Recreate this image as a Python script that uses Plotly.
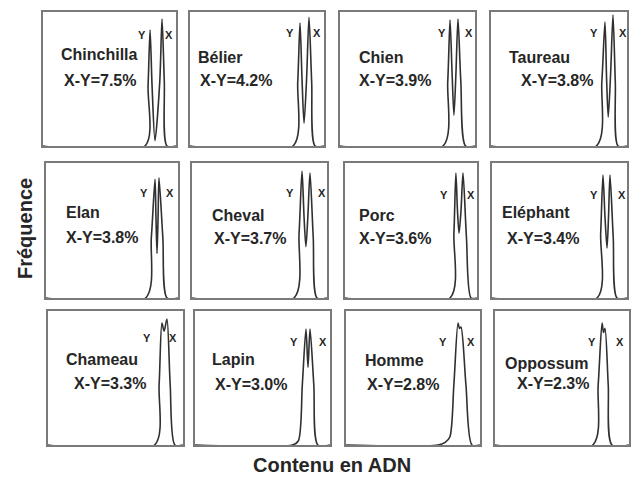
import plotly.graph_objects as go

W, H = 634, 477

species = ["Chinchilla", "Bélier", "Chien", "Taureau",
           "Elan", "Cheval", "Porc", "Eléphant",
           "Chameau", "Lapin", "Homme", "Oppossum"]
ratio_labels = ["X-Y=7.5%", "X-Y=4.2%", "X-Y=3.9%", "X-Y=3.8%",
                "X-Y=3.8%", "X-Y=3.7%", "X-Y=3.6%", "X-Y=3.4%",
                "X-Y=3.3%", "X-Y=3.0%", "X-Y=2.8%", "X-Y=2.3%"]

# DNA-content histogram outlines (relative DNA content 0-100, frequency 0-100)
curve_x = [
    [0, 76.7, 79.0, 80.5, 82.0, 84.2, 87.8, 89.5, 91.2, 93.2, 100],
    [0, 76.9, 80.4, 82.1, 83.6, 85.1, 87.0, 88.8, 90.8, 93.3, 100],
    [0, 76.3, 79.8, 81.5, 83.0, 84.4, 85.9, 87.4, 89.5, 93.0, 100],
    [0, 77.5, 81.5, 83.8, 85.0, 86.2, 88.0, 89.7, 91.4, 93.4, 100],
    [0, 75.5, 79.8, 82.6, 83.3, 84.1, 84.9, 85.6, 88.5, 91.7, 100],
    [0, 75.5, 79.3, 81.5, 83.0, 84.4, 85.9, 87.4, 89.8, 92.6, 100],
    [0, 79.5, 82.5, 84.0, 85.2, 86.4, 87.9, 89.4, 92.0, 95.5, 100],
    [0, 77.8, 80.5, 82.2, 83.7, 85.2, 86.3, 87.4, 89.8, 92.6, 100],
    [0, 79.0, 82.3, 84.4, 86.0, 88.1, 90.5, 94.0, 100],
    [0, 72.0, 76.5, 79.5, 82.2, 83.7, 85.2, 88.0, 91.0, 100],
    [0, 68.7, 74.0, 77.5, 80.5, 83.6, 84.7, 85.8, 89.5, 94.0, 100],
    [0, 73.0, 77.0, 79.9, 81.0, 82.1, 84.5, 87.3, 100],
]
curve_y = [
    [0, 0, 45, 86.6, 45, 4, 48, 94.8, 48, 0, 0],
    [0, 0, 48, 91.8, 50, 17, 50, 96, 48, 0, 0],
    [0, 0, 48, 94, 55, 23, 55, 94.8, 48, 0, 0],
    [0, 0, 48, 92.5, 50, 21.6, 55, 97.8, 48, 0, 0],
    [0, 0, 45, 88, 60, 33, 60, 89, 45, 0, 0],
    [0, 0, 48, 94, 60, 38, 62, 92.6, 45, 0, 0],
    [0, 0, 48, 92.6, 65, 48, 65, 92.6, 45, 0, 0],
    [0, 0, 48, 91, 60, 37, 60, 91, 45, 0, 0],
    [0, 0, 45, 91, 85, 94, 45, 0, 0],
    [0, 0, 3, 45, 86.6, 58, 86.6, 45, 0, 0],
    [0, 0, 2, 6, 45, 91, 87, 88, 45, 0, 0],
    [0, 0, 45, 91, 84, 87, 45, 0, 0],
]

# panel boxes in pixels (left, right, top, bottom)
boxes = [
    (43, 176, 12, 146), (190, 324, 12, 146), (340, 475, 12, 146), (491, 627, 12, 146),
    (46, 178, 163, 298), (192, 327, 163, 298), (345, 477, 163, 298), (492, 627, 163, 298),
    (48, 183, 311, 445), (195, 330, 311, 445), (346, 480, 311, 445), (495, 629, 311, 445),
]
# text positions inside panels (relative coords)
name_pos = [(12, 68), (4.5, 66), (12.6, 66), (11.8, 66),
            (13.6, 63), (13.3, 61), (9, 61), (6, 63),
            (11.9, 64), (11.1, 64), (12.7, 63), (6, 61)]
ratio_pos = [(14.3, 49), (6, 49), (12.6, 49), (20.6, 49),
             (13.6, 45), (14.8, 44), (9, 44), (9.6, 44),
             (17.8, 46), (13.3, 45), (14.2, 45), (15, 46)]
ylab_pos = [(74.4, 83), (74.6, 84), (75.5, 84), (75.7, 84),
            (74, 78), (72.6, 78), (75, 76), (75.5, 76),
            (73, 80), (73.3, 77), (72.4, 77), (72.4, 77)]
xlab_pos = [(94.7, 83), (94.8, 84), (95.5, 84), (97, 84),
            (94, 78), (96, 78), (95.5, 76), (96.3, 76),
            (92.6, 80), (95, 77), (93, 77), (93.3, 77)]


def px(x):
    return min(max(x / W, 0), 1)


def py(y):
    return min(max(1 - y / H, 0), 1)


fig = go.Figure()
layout = dict(width=W, height=H, margin=dict(l=0, r=0, t=0, b=0),
              paper_bgcolor="white", plot_bgcolor="white", showlegend=False)
annotations = []
FONT = "Liberation Sans, Arial, sans-serif"
txt_font = dict(family=FONT, size=16, color="#262626")
lab_font = dict(family=FONT, size=11, color="#262626")

for i in range(12):
    k = i + 1
    xa = "x" if k == 1 else f"x{k}"
    ya = "y" if k == 1 else f"y{k}"
    l, r, t, b = boxes[i]
    ax_common = dict(showgrid=False, zeroline=False, showticklabels=False, ticks="",
                     showline=True, mirror=True, linecolor="#7a7a7a", linewidth=1.5,
                     range=[0, 100], fixedrange=True)
    layout["xaxis" if k == 1 else f"xaxis{k}"] = dict(
        domain=[px(l), px(r)], anchor=ya, **ax_common)
    layout["yaxis" if k == 1 else f"yaxis{k}"] = dict(
        domain=[py(b), py(t)], anchor=xa, **ax_common)
    fig.add_trace(go.Scatter(x=curve_x[i], y=curve_y[i], mode="lines",
                             line=dict(color="#303030", width=1.6, shape="spline", smoothing=0.8),
                             xaxis=xa, yaxis=ya, hoverinfo="skip"))
    annotations.append(dict(x=name_pos[i][0], y=name_pos[i][1], xref=xa, yref=ya,
                            text=f"<b>{species[i]}</b>", showarrow=False,
                            xanchor="left", yanchor="middle", font=txt_font))
    annotations.append(dict(x=ratio_pos[i][0], y=ratio_pos[i][1], xref=xa, yref=ya,
                            text=f"<b>{ratio_labels[i]}</b>", showarrow=False,
                            xanchor="left", yanchor="middle", font=txt_font))
    annotations.append(dict(x=ylab_pos[i][0], y=ylab_pos[i][1], xref=xa, yref=ya,
                            text="<b>Y</b>", showarrow=False,
                            xanchor="center", yanchor="middle", font=lab_font))
    annotations.append(dict(x=xlab_pos[i][0], y=xlab_pos[i][1], xref=xa, yref=ya,
                            text="<b>X</b>", showarrow=False,
                            xanchor="center", yanchor="middle", font=lab_font))

annotations.append(dict(x=px(332), y=py(465), xref="paper", yref="paper",
                        text="<b>Contenu en ADN</b>", showarrow=False,
                        xanchor="center", yanchor="middle",
                        font=dict(family=FONT, size=20, color="#262626")))
annotations.append(dict(x=px(25), y=py(229), xref="paper", yref="paper",
                        text="<b>Fréquence</b>", showarrow=False, textangle=-90,
                        xanchor="center", yanchor="middle",
                        font=dict(family=FONT, size=20, color="#262626")))
layout["annotations"] = annotations
fig.update_layout(**layout)
# remove the default page margin so the figure fills the window exactly
fig.write_html("out.html", config={"displayModeBar": False},
               post_script="document.body.style.margin='0';document.body.style.overflow='hidden';")
